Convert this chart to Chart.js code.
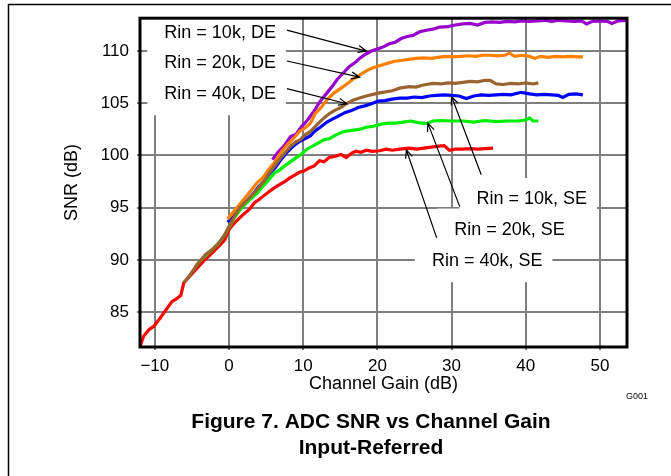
<!DOCTYPE html>
<html>
<head>
<meta charset="utf-8">
<title>ADC SNR vs Channel Gain</title>
<script src="https://cdn.jsdelivr.net/npm/chart.js@4.4.1/dist/chart.umd.min.js"></script>
<style>
    html, body { margin: 0; padding: 0; background: #fff; }
    #wrap { width: 671px; height: 476px; }
</style>
</head>
<body>
<div id="wrap"><canvas id="snrChart" width="671" height="476"></canvas></div>
<script>
// Axis ticks
const gainTicks = [-10, 0, 10, 20, 30, 40, 50];
const snrTicks = [85, 90, 95, 100, 105, 110];

// Rin = 40k, DE (brown)
const gain40kDE = [-6.1, -5.3, -4.3, -3.2, -2.2, -1.4, -0.6, 0.0, 0.7, 1.4, 2.0, 2.7, 3.4, 4.1, 4.8, 5.4, 6.1, 7.0, 8.3, 9.0, 9.6, 10.2, 11.0, 11.8, 12.8, 13.5, 14.2, 15.1, 15.8, 16.7, 17.6, 18.5, 19.4, 20.3, 21.2, 22.0, 23.0, 24.3, 25.2, 26.2, 27.5, 28.5, 29.5, 30.5, 31.5, 32.5, 33.5, 34.5, 35.2, 36.0, 37.0, 38.0, 39.0, 40.0, 41.0, 41.7];
const snr40kDE = [87.8, 88.5, 89.55, 90.5, 91.0, 91.6, 92.4, 93.2, 94.1, 94.95, 95.4, 95.9, 96.4, 97.0, 97.6, 98.3, 98.95, 99.8, 100.9, 101.3, 101.5, 101.95, 102.3, 102.9, 103.6, 104.0, 104.3, 104.6, 104.95, 105.3, 105.5, 105.7, 105.85, 106.0, 106.1, 106.2, 106.45, 106.6, 106.55, 106.75, 106.9, 106.85, 106.95, 106.9, 107.0, 107.1, 107.05, 107.2, 107.2, 106.85, 106.8, 106.9, 106.85, 106.95, 106.85, 106.95];

// Rin = 20k, DE (orange)
const gain20kDE = [-0.2, 0.5, 1.3, 2.0, 2.8, 3.8, 4.6, 5.3, 6.1, 7.0, 7.8, 8.8, 9.5, 10.2, 11.0, 11.6, 12.3, 13.3, 14.2, 15.0, 15.8, 16.7, 17.6, 18.5, 19.4, 20.3, 21.2, 22.2, 23.2, 24.2, 25.2, 26.2, 27.2, 28.2, 29.2, 30.2, 31.2, 32.2, 33.2, 34.2, 35.2, 36.2, 37.2, 37.8, 38.5, 39.5, 40.5, 41.2, 42.0, 43.0, 44.0, 45.0, 46.0, 47.0, 47.7];
const snr20kDE = [93.9, 94.5, 95.2, 95.8, 96.5, 97.4, 97.9, 98.6, 99.3, 100.3, 101.0, 101.7, 102.3, 102.6, 103.1, 104.0, 104.5, 105.4, 106.0, 106.4, 106.8, 107.3, 107.7, 108.1, 108.4, 108.6, 108.8, 109.0, 109.1, 109.2, 109.3, 109.35, 109.3, 109.4, 109.5, 109.45, 109.5, 109.55, 109.5, 109.6, 109.6, 109.55, 109.6, 109.8, 109.5, 109.6, 109.5, 109.3, 109.5, 109.4, 109.5, 109.45, 109.5, 109.45, 109.45];

// Rin = 10k, DE (purple)
const gain10kDE = [5.85, 6.6, 7.4, 8.3, 9.0, 9.7, 10.6, 11.5, 12.3, 13.1, 13.9, 14.6, 15.4, 16.2, 17.0, 17.6, 18.4, 19.2, 20.0, 20.8, 21.6, 22.4, 23.2, 24.0, 24.8, 25.7, 26.6, 27.5, 28.4, 29.5, 30.5, 31.5, 32.5, 33.5, 34.5, 35.5, 36.5, 37.5, 38.5, 39.5, 40.5, 41.5, 42.5, 43.5, 44.5, 45.5, 46.5, 47.5, 48.2, 49.0, 50.0, 51.0, 51.6, 52.5, 53.7];
const snr10kDE = [99.6, 100.3, 100.9, 101.8, 102.0, 102.7, 103.4, 104.3, 105.2, 105.9, 106.6, 107.3, 107.9, 108.5, 108.9, 109.3, 109.7, 110.0, 110.2, 110.4, 110.7, 110.85, 111.2, 111.4, 111.5, 111.85, 112.0, 112.1, 112.3, 112.35, 112.5, 112.6, 112.65, 112.5, 112.75, 112.8, 112.75, 112.85, 112.8, 112.9, 112.85, 112.9, 112.95, 112.85, 112.95, 112.9, 112.85, 112.9, 112.6, 112.85, 112.9, 112.85, 112.65, 112.9, 112.95];

// Rin = 20k, SE (green)
const gain20kSE = [-4.5, -3.5, -2.5, -1.5, -0.5, 0.2, 0.7, 1.4, 2.0, 2.7, 3.8, 4.5, 5.3, 6.1, 6.8, 7.5, 8.5, 9.7, 10.5, 11.5, 12.8, 13.5, 14.5, 15.5, 16.5, 17.6, 18.5, 19.5, 20.5, 21.5, 22.5, 23.5, 24.5, 25.5, 26.6, 27.5, 28.5, 30.0, 31.5, 33.0, 34.5, 36.0, 37.5, 39.0, 40.0, 40.5, 41.0, 41.7];
const snr20kSE = [89.4, 90.2, 90.85, 91.5, 92.45, 93.4, 94.0, 94.7, 95.2, 95.7, 96.4, 97.0, 97.6, 98.3, 98.6, 99.0, 99.5, 100.1, 100.6, 101.0, 101.5, 101.6, 102.0, 102.3, 102.4, 102.5, 102.7, 102.8, 103.0, 103.1, 103.1, 103.2, 103.3, 103.15, 103.05, 103.3, 103.35, 103.3, 103.3, 103.2, 103.35, 103.25, 103.3, 103.3, 103.4, 103.6, 103.3, 103.3];

// Rin = 10k, SE (blue)
const gain10kSE = [-0.2, 0.6, 1.4, 2.2, 3.0, 4.0, 4.8, 5.4, 6.2, 7.0, 7.8, 8.6, 9.4, 10.2, 11.0, 11.5, 12.3, 13.2, 14.0, 14.8, 15.6, 16.5, 17.4, 18.3, 19.2, 20.1, 21.0, 22.0, 23.0, 24.0, 25.0, 26.0, 27.0, 28.0, 29.0, 30.0, 31.0, 32.0, 33.0, 34.0, 35.0, 36.0, 37.0, 38.0, 39.4, 40.5, 41.5, 42.5, 43.5, 44.4, 45.0, 45.8, 46.8, 47.7];
const snr10kSE = [93.6, 94.2, 95.0, 95.5, 96.1, 97.0, 97.6, 98.2, 98.8, 99.6, 100.3, 100.85, 101.3, 101.6, 101.9, 102.3, 102.7, 103.2, 103.5, 103.8, 104.1, 104.3, 104.6, 104.75, 104.95, 105.2, 105.25, 105.4, 105.5, 105.5, 105.6, 105.55, 105.7, 105.75, 105.8, 105.75, 105.7, 105.45, 105.7, 105.8, 105.75, 105.8, 105.85, 105.8, 106.05, 105.9, 105.8, 105.85, 105.8, 105.75, 105.55, 105.85, 105.9, 105.8];

// Rin = 40k, SE (red)
const gain40kSE = [-12.0, -11.5, -10.8, -10.1, -9.3, -8.5, -7.7, -7.0, -6.5, -6.1, -5.2, -4.3, -3.4, -2.5, -1.4, -0.6, 0.0, 0.7, 1.4, 2.0, 2.7, 3.4, 4.1, 4.8, 5.5, 6.1, 6.8, 7.5, 8.1, 8.8, 9.5, 10.1, 10.8, 11.5, 12.2, 12.8, 13.5, 14.2, 15.1, 15.8, 16.5, 17.1, 17.8, 18.5, 19.3, 20.3, 21.2, 22.0, 23.0, 24.3, 25.3, 26.3, 27.3, 28.3, 29.0, 29.7, 30.5, 31.5, 32.5, 33.5, 34.5, 35.6];
const snr40kSE = [81.7, 82.7, 83.3, 83.65, 84.4, 85.2, 86.0, 86.3, 86.6, 87.8, 88.5, 89.2, 89.9, 90.5, 91.3, 91.9, 92.9, 93.5, 94.0, 94.4, 94.8, 95.45, 95.8, 96.2, 96.6, 96.9, 97.2, 97.5, 97.8, 98.1, 98.4, 98.5, 98.8, 99.0, 99.5, 99.4, 99.8, 99.9, 100.1, 99.8, 100.2, 100.4, 100.3, 100.5, 100.4, 100.45, 100.6, 100.5, 100.6, 100.7, 100.6, 100.7, 100.8, 100.9, 100.95, 100.5, 100.6, 100.6, 100.65, 100.6, 100.65, 100.7];

// Callout labels (anchored in axis units)
const noteText = ["Rin = 10k, DE", "Rin = 20k, DE", "Rin = 40k, DE", "Rin = 10k, SE", "Rin = 20k, SE", "Rin = 40k, SE"];
const noteGain = [-1.2, -1.2, -1.2, 40.8, 37.8, 34.8];
const noteSnr = [111.73, 108.83, 105.87, 95.83, 92.9, 89.87];
// arrows: tail -> head
const arrowFrom = [[7.8, 112.0], [7.8, 109.05], [7.8, 106.4], [34.0, 98.15], [31.1, 95.1], [28.0, 92.1]];
const arrowTo = [[18.5, 110.0], [17.6, 107.5], [15.9, 104.95], [30.0, 105.65], [26.8, 103.1], [23.9, 100.55]];

const FONT = "'Liberation Sans', Arial, Helvetica, sans-serif";

function toPoints(xs, ys) {
    return xs.map((g, i) => ({ x: g, y: ys[i] }));
}

function series(xs, ys, color) {
    return {
        data: toPoints(xs, ys),
        borderColor: color,
        borderWidth: 3.2,
        pointRadius: 0,
        tension: 0,
        fill: false,
    };
}

// index 0 ends up on top
const datasets = [
    series(gain40kDE, snr40kDE, "#9a6432"),
    series(gain20kDE, snr20kDE, "#ff8000"),
    series(gain10kDE, snr10kDE, "#9900cc"),
    series(gain20kSE, snr20kSE, "#00ee00"),
    series(gain10kSE, snr10kSE, "#0000ff"),
    series(gain40kSE, snr40kSE, "#ff0000"),
];

// white boxes, labels, arrows, frame, figure caption
const notesPlugin = {
    id: "notes",
    beforeDatasetsDraw(chart) {
        const { ctx, chartArea: a, scales } = chart;
        ctx.save();
        ctx.beginPath();
        ctx.rect(a.left, a.top, a.right - a.left, a.bottom - a.top);
        ctx.clip();
        ctx.font = "18px " + FONT;
        ctx.fillStyle = "#fff";
        noteText.forEach((t, i) => {
            const w = ctx.measureText(t).width;
            const cx = scales.x.getPixelForValue(noteGain[i]);
            const cy = scales.y.getPixelForValue(noteSnr[i]);
            ctx.fillRect(cx - w / 2 - 17, cy - 21, w + 27, 42);
        });
        ctx.restore();
    },
    afterDatasetsDraw(chart) {
        const { ctx, chartArea: a, scales } = chart;
        ctx.save();
        ctx.font = "18px " + FONT;
        ctx.fillStyle = "#000";
        ctx.textAlign = "center";
        ctx.textBaseline = "middle";
        noteText.forEach((t, i) => {
            ctx.fillText(t, scales.x.getPixelForValue(noteGain[i]), scales.y.getPixelForValue(noteSnr[i]));
        });

        ctx.strokeStyle = "#000";
        ctx.lineWidth = 1.2;
        arrowFrom.forEach((p, i) => {
            const x0 = scales.x.getPixelForValue(p[0]);
            const y0 = scales.y.getPixelForValue(p[1]);
            const x1 = scales.x.getPixelForValue(arrowTo[i][0]);
            const y1 = scales.y.getPixelForValue(arrowTo[i][1]);
            const ang = Math.atan2(y1 - y0, x1 - x0);
            ctx.beginPath();
            ctx.moveTo(x0, y0);
            ctx.lineTo(x1, y1);
            ctx.moveTo(x1 - 9 * Math.cos(ang - 0.4), y1 - 9 * Math.sin(ang - 0.4));
            ctx.lineTo(x1, y1);
            ctx.lineTo(x1 - 9 * Math.cos(ang + 0.4), y1 - 9 * Math.sin(ang + 0.4));
            ctx.stroke();
        });

        // plot frame
        ctx.lineWidth = 3;
        ctx.strokeRect(a.left, a.top, a.right - a.left, a.bottom - a.top);
        ctx.restore();
    },
    afterDraw(chart) {
        const { ctx } = chart;
        ctx.save();
        // page border (top and left only)
        ctx.strokeStyle = "#000";
        ctx.lineWidth = 1.5;
        ctx.beginPath();
        ctx.moveTo(671, 4.5);
        ctx.lineTo(8.5, 4.5);
        ctx.lineTo(8.5, 476);
        ctx.stroke();

        ctx.fillStyle = "#000";
        ctx.textBaseline = "middle";
        ctx.textAlign = "center";
        ctx.font = "9px " + FONT;
        ctx.fillText("G001", 637, 397);
        ctx.font = "bold 21px " + FONT;
        ctx.fillText("Figure 7. ADC SNR vs Channel Gain", 371, 422);
        ctx.fillText("Input-Referred", 371, 448);
        ctx.restore();
    },
};

const ctx = document.getElementById("snrChart").getContext("2d");
const snrChart = new Chart(ctx, {
    type: "line",
    data: { datasets: datasets },
    options: {
        responsive: false,
        animation: false,
        devicePixelRatio: 1,
        layout: { padding: { left: 0, top: 18, right: 44, bottom: 77 } },
        plugins: {
            legend: { display: false },
            tooltip: { enabled: false },
        },
        scales: {
            x: {
                type: "linear",
                min: -12,
                max: 53.65,
                afterBuildTicks: (s) => {
                    s.ticks = gainTicks.map((v) => ({ value: v }));
                },
                afterFit: (s) => {
                    s.height = 52;
                },
                border: { display: false },
                grid: { color: "#7f7f7f", lineWidth: 2, tickLength: 3 },
                ticks: {
                    color: "#000",
                    padding: 6,
                    maxRotation: 0,
                    font: { family: FONT, size: 17 },
                    callback: (v) => (v < 0 ? "\u2212" + Math.abs(v) : String(v)),
                },
                title: {
                    display: true,
                    text: "Channel Gain (dB)",
                    color: "#000",
                    font: { family: FONT, size: 18 },
                    padding: { top: 0, bottom: 4 },
                },
            },
            y: {
                min: 81.65,
                max: 113.15,
                afterBuildTicks: (s) => {
                    s.ticks = snrTicks.map((v) => ({ value: v }));
                },
                afterFit: (s) => {
                    s.width = 140;
                },
                border: { display: false },
                grid: { color: "#7f7f7f", lineWidth: 2, tickLength: 3 },
                ticks: {
                    color: "#000",
                    padding: 8,
                    font: { family: FONT, size: 17 },
                },
                title: {
                    display: true,
                    text: "SNR (dB)",
                    color: "#000",
                    font: { family: FONT, size: 18 },
                    padding: { top: 61, bottom: 0 },
                },
            },
        },
    },
    plugins: [notesPlugin],
});
</script>
</body>
</html>
